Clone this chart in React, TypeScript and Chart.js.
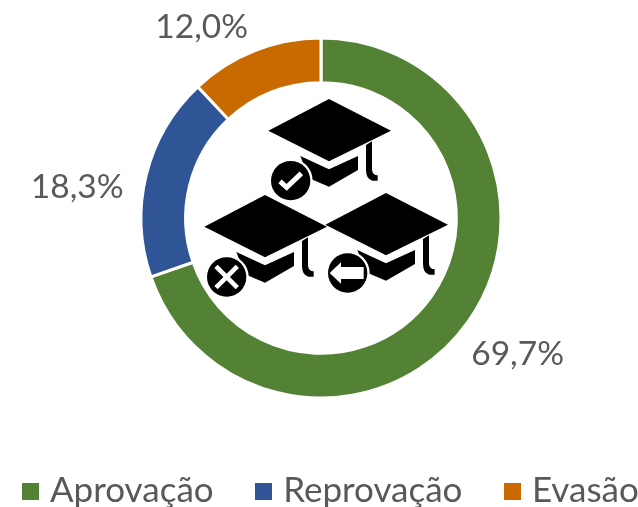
import React, { useEffect, useRef } from "react";
import { Chart, registerables } from "chart.js";

Chart.register(...registerables);

const categories = ["Aprovação", "Reprovação", "Evasão"];
const shares = [69.7, 18.3, 12.0];
const sliceColors = ["#548235", "#2F5597", "#C96A00"];

const FONT = "Lato, 'Open Sans', sans-serif";
const TEXT = "#595959";

function swatch(color: string) {
  const c = document.createElement("canvas");
  c.width = 17;
  c.height = 17;
  const g = c.getContext("2d")!;
  g.fillStyle = color;
  g.fillRect(0, 0, 17, 17);
  return c;
}

const placement = {
  id: "placement",
  afterLayout(chart: any) {
    const a = chart.chartArea;
    a.left = 139.5;
    a.right = 502.5;
    a.top = 36.5;
    a.bottom = 399.5;
    a.width = 363;
    a.height = 363;
    const lg = chart.legend;
    const w = lg.width;
    const h = lg.height;
    lg.left = -19.5;
    lg.right = lg.left + w;
    lg.top = 425.5;
    lg.bottom = lg.top + h;
  },
};

const sliceLabels = {
  id: "sliceLabels",
  afterDatasetsDraw(chart: any) {
    const { ctx } = chart;
    const arcs = chart.getDatasetMeta(0).data;
    const nudges = [
      [50, 32],
      [-69, 12],
      [-53, -23],
    ];
    ctx.save();
    ctx.font = `33.5px ${FONT}`;
    ctx.fillStyle = TEXT;
    ctx.textAlign = "center";
    ctx.textBaseline = "middle";
    arcs.forEach((arc: any, i: number) => {
      const mid = (arc.startAngle + arc.endAngle) / 2;
      const r = 180;
      const x = arc.x + Math.cos(mid) * r + nudges[i][0];
      const y = arc.y + Math.sin(mid) * r + nudges[i][1];
      ctx.fillText(shares[i].toFixed(1).replace(".", ",") + "%", x, y);
    });
    ctx.restore();
  },
};

function drawCap(ctx: CanvasRenderingContext2D, ox: number, oy: number, glyph: string, by: number) {
  // Decorative icon, sketched in units of 1/3 px around the cap's top corner.
  ctx.save();
  ctx.translate(ox, oy);
  ctx.scale(1 / 3, 1 / 3);
  ctx.fillStyle = "#000";
  ctx.beginPath();
  ctx.moveTo(0, 0);
  ctx.lineTo(186, 95);
  ctx.lineTo(0, 187);
  ctx.lineTo(-182, 95);
  ctx.closePath();
  ctx.fill();
  ctx.beginPath();
  ctx.moveTo(-86, 171);
  ctx.lineTo(0, 211);
  ctx.lineTo(87, 171);
  ctx.lineTo(87, 213);
  ctx.lineTo(0, 263);
  ctx.lineTo(-60, 238);
  ctx.closePath();
  ctx.fill();
  ctx.beginPath();
  ctx.moveTo(111, 138);
  ctx.lineTo(129, 127);
  ctx.lineTo(129, 212);
  ctx.quadraticCurveTo(130, 228, 146, 229);
  ctx.lineTo(146, 245);
  ctx.lineTo(130, 245);
  ctx.quadraticCurveTo(111, 240, 111, 212);
  ctx.closePath();
  ctx.fill();
  const bx = -115;
  ctx.fillStyle = "#fff";
  ctx.beginPath();
  ctx.arc(bx, by, 66, 0, Math.PI * 2);
  ctx.fill();
  ctx.fillStyle = "#000";
  ctx.beginPath();
  ctx.arc(bx, by, 59, 0, Math.PI * 2);
  ctx.fill();
  ctx.strokeStyle = "#fff";
  ctx.fillStyle = "#fff";
  ctx.lineCap = "butt";
  ctx.lineJoin = "miter";
  ctx.lineWidth = 15;
  ctx.translate(bx, by);
  if (glyph === "check") {
    ctx.beginPath();
    ctx.moveTo(-32, 2);
    ctx.lineTo(-12, 20);
    ctx.lineTo(32, -22);
    ctx.stroke();
  } else if (glyph === "cross") {
    ctx.lineWidth = 14;
    ctx.beginPath();
    ctx.moveTo(-32, -32);
    ctx.lineTo(32, 32);
    ctx.moveTo(32, -32);
    ctx.lineTo(-32, 32);
    ctx.stroke();
  } else {
    ctx.beginPath();
    ctx.moveTo(-54, 0);
    ctx.lineTo(-20, -32);
    ctx.lineTo(-20, -18);
    ctx.lineTo(48, -18);
    ctx.lineTo(48, 18);
    ctx.lineTo(-20, 18);
    ctx.lineTo(-20, 32);
    ctx.closePath();
    ctx.fill();
  }
  ctx.restore();
}

const capsIcon = {
  id: "capsIcon",
  afterDatasetsDraw(chart: any) {
    const arc = chart.getDatasetMeta(0).data[0];
    const { ctx } = chart;
    drawCap(ctx, arc.x + 8, arc.y - 119, "check", 245);
    drawCap(ctx, arc.x - 56, arc.y - 23, "cross", 246);
    drawCap(ctx, arc.x + 65, arc.y - 25, "arrow", 240);
  },
};

export default function App() {
  const ref = useRef<HTMLCanvasElement>(null);
  useEffect(() => {
    const swatches = sliceColors.map(swatch);
    const chart = new Chart(ref.current!, {
      type: "doughnut",
      data: {
        labels: categories,
        datasets: [
          {
            data: shares,
            backgroundColor: sliceColors,
            borderColor: "#ffffff",
            borderWidth: 3,
          },
        ],
      },
      options: {
        responsive: false,
        animation: false,
        cutout: "75.2%",
        layout: { padding: { left: -60, right: -60 } },
        plugins: {
          tooltip: { enabled: false },
          legend: {
            position: "bottom",
            align: "start",
            labels: {
              font: { family: FONT, size: 35 },
              color: TEXT,
              padding: 48,
              usePointStyle: true,
              pointStyleWidth: 4,
              generateLabels(c: any) {
                const base = (Chart as any).overrides.doughnut.plugins.legend.labels.generateLabels(c);
                return base.map((it: any, i: number) => ({ ...it, pointStyle: swatches[i] }));
              },
            },
          },
        },
      },
      plugins: [placement, sliceLabels, capsIcon],
    } as any);
    return () => chart.destroy();
  }, []);
  return (
    <div style={{ position: "fixed", left: 0, top: 0, width: 638, height: 507, background: "#fff" }}>
      <canvas ref={ref} width={638} height={507} style={{ display: "block" }} />
    </div>
  );
}
